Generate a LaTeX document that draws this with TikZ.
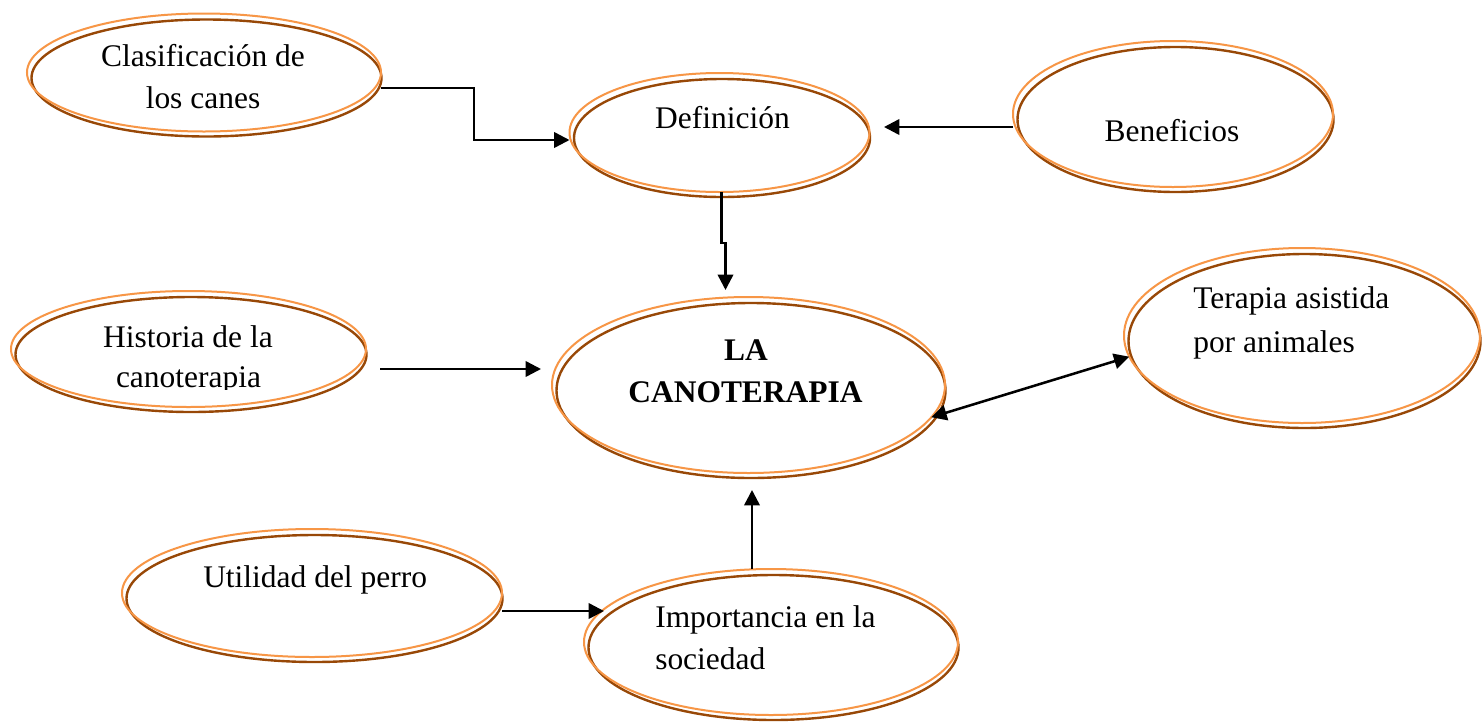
\documentclass[tikz,border=0pt]{standalone}
\usepackage{fontspec}
\setmainfont{Liberation Serif}
\usetikzlibrary{shapes.geometric,arrows.meta}
\definecolor{orE}{HTML}{F79646}
\definecolor{brE}{HTML}{984807}
\tikzset{
  oval/.style={ellipse, draw=orE, line width=1.5pt, inner sep=0pt, outer sep=0pt},
  shadowline/.style={draw=brE, line width=1.8pt},
  lbl/.style={inner sep=0pt, font=\fontsize{23.6pt}{30pt}\selectfont},
  tip/.style={Triangle[length=11.5pt,width=11.5pt]},
  arr/.style={line width=1.9pt, -{Triangle[length=11.5pt,width=11.5pt]}},
  darr/.style={line width=1.9pt, {Triangle[length=11.5pt,width=11.5pt]}-{Triangle[length=11.5pt,width=11.5pt]}},
}
\newcommand{\myoval}[5]{%
  \draw[shadowline] (#2+2.5,#3+5.5) ellipse [x radius=#4-2, y radius=#5-0.5];
  \node[oval, minimum width={1.5pt*#4}, minimum height={1.5pt*#5}] (#1) at (#2,#3) {};
}
\begin{document}
\begin{tikzpicture}[x=0.75pt,y=-0.75pt]
\useasboundingbox[fill=white] (0,0) rectangle (1482,722);
% ellipses
\myoval{clas}{204}{72.5}{177}{59}
\myoval{def}{719.5}{132.5}{150}{59.5}
\myoval{ben}{1173}{114}{160}{73}
\myoval{hist}{188.5}{349}{177.5}{58}
\myoval{can}{748.5}{385}{196.5}{88}
\myoval{ter}{1302}{335.5}{178}{87.5}
\myoval{util}{312}{593}{190}{64}
\myoval{imp}{771}{642}{187}{73}
% texts
\node[lbl, anchor=base] (t1a) at (203,66) {Clasificación de};
\node[lbl, anchor=base] (t1b) at (203,108) {los canes};
\node[lbl, anchor=base] (t2) at (722.5,128) {Definición};
\node[lbl, anchor=base] (t3) at (1172,141) {Beneficios};
\node[lbl, anchor=base] (t4a) at (188,347) {Historia de la};
\begin{scope}
  \clip (0,0) rectangle (400,389);
  \node[lbl, anchor=base] (t4b) at (188.5,387) {canoterapia};
\end{scope}
\node[lbl, anchor=base, font=\fontsize{23.6pt}{30pt}\selectfont\bfseries] (t5a) at (746,360) {LA};
\node[lbl, anchor=base, font=\fontsize{23.6pt}{30pt}\selectfont\bfseries] (t5b) at (745.5,402) {CANOTERAPIA};
\node[lbl, anchor=base west] (t6a) at (1193,308) {Terapia asistida};
\node[lbl, anchor=base west] (t6b) at (1193,352) {por animales};
\node[lbl, anchor=base west] (t7) at (203,587) {Utilidad del perro};
\node[lbl, anchor=base west] (t8a) at (655,627) {Importancia en la};
\node[lbl, anchor=base west] (t8b) at (655,669) {sociedad};
% free ends
\coordinate (benTip) at (884,127);
\coordinate (canTop) at (725.5,290);
\coordinate (histOut) at (380,369);
\coordinate (canLeft) at (541,369);
\coordinate (canBot) at (752,490);
\coordinate (impIn) at (604,611);
% connectors
\draw[arr] (clas.east |- 0,88) -| (474,140) -- (def.west |- 0,140);
\draw[arr] (ben.west |- 0,127) -- (benTip);
\draw[arr] ([xshift=1.5pt]def.south) -- ++(0,51) -- ++(4,0) -- (canTop);
\draw[arr] (histOut) -- (canLeft);
\draw[darr] (can.-10.6) -- (ter.187);
\draw[arr] (imp.north -| canBot) -- (canBot);
\draw[arr] (util.east |- 0,611) -- (impIn);
\end{tikzpicture}
\end{document}
